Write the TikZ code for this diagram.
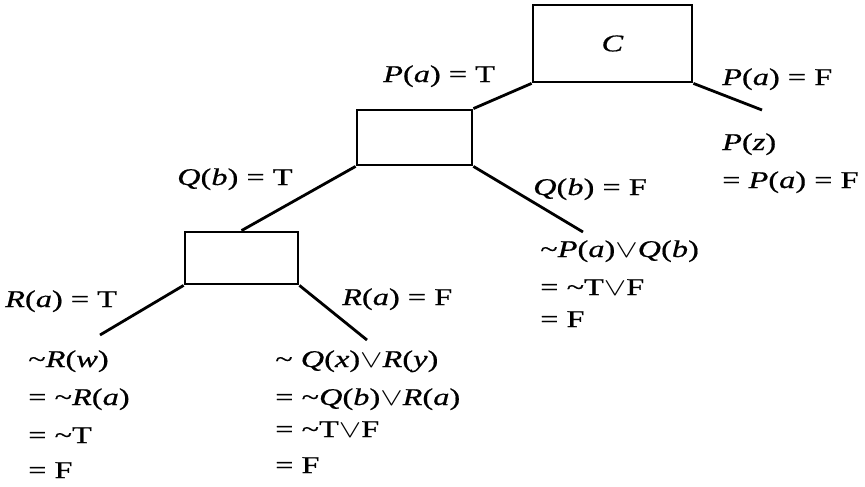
\documentclass[tikz,border=0pt]{standalone}
\usepackage{fontspec}
\setmainfont{Liberation Serif}[FakeStretch=1.35, FakeBold=0.6]
\usepackage{tikz}
\usetikzlibrary{positioning}
\newcommand{\nt}{\textasciitilde}
\newcommand{\orsym}{\scalebox{1.35}[1]{$\vee$}}
\newcommand{\iv}[1]{\textit{#1}}

\begin{document}
\begin{tikzpicture}[
  x=1pt, y=-1pt,
  box/.style={draw=black, line width=2.8pt, inner sep=0pt, font=\fontsize{24}{38}\selectfont},
  lbl/.style={inner sep=0pt, anchor=base west, align=left, font=\fontsize{24}{38}\selectfont},
  edge/.style={line width=2.8pt}
]
  \useasboundingbox (0,0) rectangle (865,487);
  % boxes
  \node[box, minimum width=159pt, minimum height=77pt] (C) at (612.5,43.5) {\iv{C}};
  \node[box, minimum width=115pt, minimum height=55pt] (mid) at (414.5,137.5) {};
  \node[box, minimum width=113pt, minimum height=52pt] (low) at (241.5,258) {};
  % free ends
  \coordinate (eP) at (762,110);
  \coordinate (eQ) at (583,232);
  \coordinate (eRT) at (100,335);
  \coordinate (eRF) at (367,340);
  % branch labels
  \node[lbl] (lPT) at (383,82) {\iv{P}(\iv{a}) = T};
  \node[lbl] (lPF) at (722,85) {\iv{P}(\iv{a}) = F};
  \node[lbl] (lQT) at (177,185) {\iv{Q}(\iv{b}) = T};
  \node[lbl] (lQF) at (533,195) {\iv{Q}(\iv{b}) = F};
  \node[lbl] (lRT) at (5,307) {\iv{R}(\iv{a}) = T};
  \node[lbl] (lRF) at (342,305) {\iv{R}(\iv{a}) = F};
  % evaluations (anchored at the last line)
  \node[lbl] (vPz) at (722,188) {\iv{P}(\iv{z})\\ = \iv{P}(\iv{a}) = F};
  \node[lbl] (vPQ) at (540,327) {\nt\iv{P}(\iv{a})\orsym\iv{Q}(\iv{b})\\ = \nt T\orsym F\\[-6pt] = F};
  \node[lbl] (vRw) at (28,478) {\nt\iv{R}(\iv{w})\\ = \nt\iv{R}(\iv{a})\\ = \nt T\\[-3pt] = F};
  \node[lbl] (vQR) at (275,473) {\nt\ \iv{Q}(\iv{x})\orsym\iv{R}(\iv{y})\\ = \nt\iv{Q}(\iv{b})\orsym\iv{R}(\iv{a})\\[-6pt] = \nt T\orsym F\\[-2pt] = F};
  % branches
  \foreach \a/\b in {C.south west/mid.north east, C.south east/eP, mid.south west/low.north, mid.south east/eQ, low.south west/eRT, low.south east/eRF}{
    \draw[edge] (\a) -- (\b);
  }
\end{tikzpicture}
\end{document}
